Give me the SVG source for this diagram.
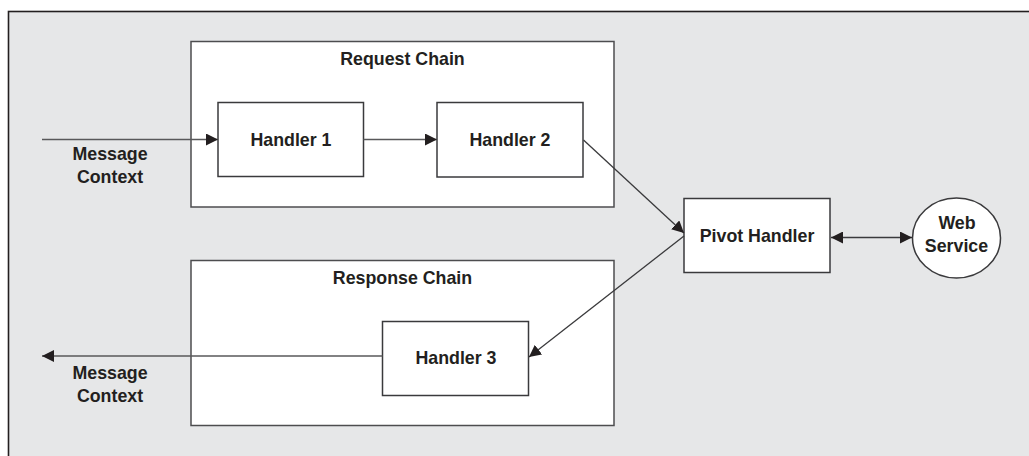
<svg xmlns="http://www.w3.org/2000/svg" width="1029" height="456" viewBox="0 0 1029 456">
  <style>
    .frame { fill: #e6e7e8; stroke: #231f20; stroke-width: 1.6; }
    .chain { fill: #ffffff; stroke: #4d4d4f; stroke-width: 1.5; }
    .box { fill: #ffffff; stroke: #3a3a3c; stroke-width: 1.5; }
    .lbl { font-family: "Liberation Sans", Arial, sans-serif; font-weight: bold; font-size: 17.8px; fill: #231f20; text-anchor: middle; }
    .wire { fill: none; stroke: #3a3a3c; stroke-width: 1.3; }
    .hwire { fill: none; stroke: #58585a; stroke-width: 1.6; }
  </style>
  <defs>
    <marker id="arrow" markerUnits="userSpaceOnUse" markerWidth="13" markerHeight="12" refX="12" refY="6" orient="auto-start-reverse">
      <path d="M0,0 L12,6 L0,12 Z" fill="#231f20"/>
    </marker>
  </defs>

  <!-- background panel -->
  <rect class="frame" x="8.5" y="11.5" width="1040" height="470"/>

  <!-- containers -->
  <g id="request-chain">
    <rect class="chain" x="191" y="41.5" width="423" height="165.5"/>
    <text class="lbl" x="402.5" y="65">Request Chain</text>
  </g>
  <g id="response-chain">
    <rect class="chain" x="191" y="260.5" width="423" height="165"/>
    <text class="lbl" x="402.5" y="284">Response Chain</text>
  </g>

  <!-- handlers -->
  <g id="handler-1">
    <rect class="box" x="218" y="102.5" width="145.5" height="74"/>
    <text class="lbl" x="291" y="146">Handler 1</text>
  </g>
  <g id="handler-2">
    <rect class="box" x="437" y="102.5" width="146" height="74.5"/>
    <text class="lbl" x="510" y="146">Handler 2</text>
  </g>
  <g id="handler-3">
    <rect class="box" x="382.5" y="321.5" width="146" height="74"/>
    <text class="lbl" x="456" y="364">Handler 3</text>
  </g>
  <g id="pivot-handler">
    <rect class="box" x="684" y="198.5" width="146" height="74"/>
    <text class="lbl" x="757" y="241.5">Pivot Handler</text>
  </g>
  <g id="web-service">
    <ellipse class="box" cx="956.5" cy="238" rx="44" ry="40"/>
    <text class="lbl" x="957" y="229">Web</text>
    <text class="lbl" x="956.5" y="251.5">Service</text>
  </g>

  <!-- message context labels -->
  <g id="context-in">
    <text class="lbl" x="110" y="160">Message</text>
    <text class="lbl" x="110" y="183">Context</text>
  </g>
  <g id="context-out">
    <text class="lbl" x="110" y="379">Message</text>
    <text class="lbl" x="110" y="401.5">Context</text>
  </g>

  <!-- connectors -->
  <g id="connectors">
    <line class="hwire" x1="42" y1="139.5" x2="218" y2="139.5" marker-end="url(#arrow)"/>
    <line class="hwire" x1="363.5" y1="139.5" x2="437" y2="139.5" marker-end="url(#arrow)"/>
    <line class="wire" x1="583.5" y1="140" x2="684" y2="233" marker-end="url(#arrow)"/>
    <line class="wire" x1="684" y1="236" x2="529" y2="357" marker-end="url(#arrow)"/>
    <line class="hwire" x1="382.5" y1="356" x2="42" y2="356" marker-end="url(#arrow)"/>
    <line class="wire" x1="831" y1="237.5" x2="912" y2="237.5" marker-start="url(#arrow)" marker-end="url(#arrow)"/>
  </g>
</svg>
